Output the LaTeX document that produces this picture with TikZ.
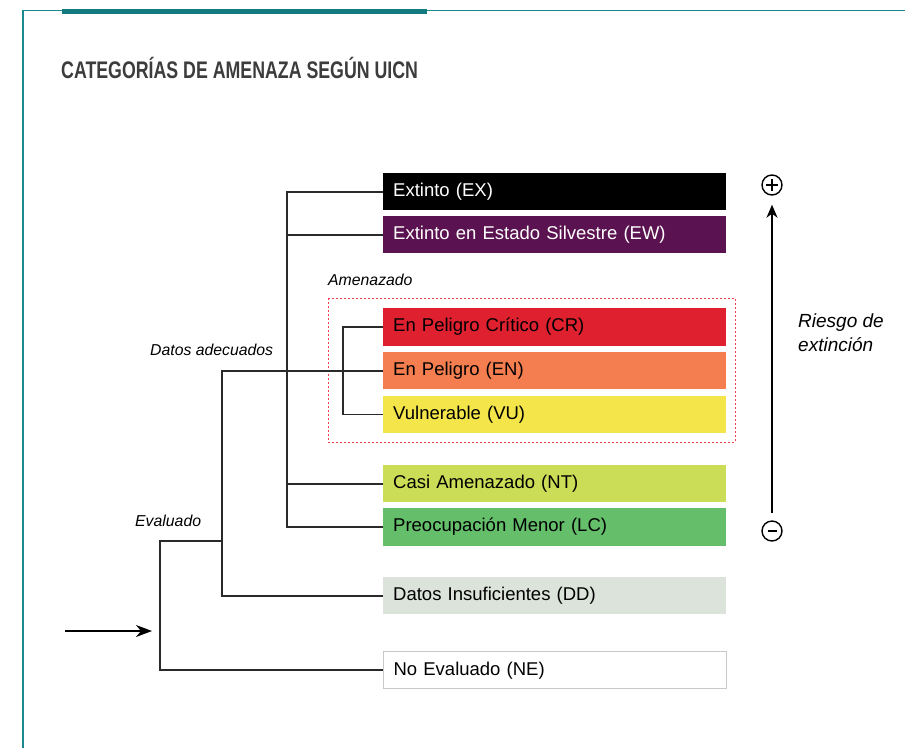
\documentclass[tikz,border=0pt]{standalone}
\usepackage{fontspec}
\setmainfont{Liberation Sans}
\newfontfamily\titlefont{Liberation Sans}[FakeStretch=0.74]
\usetikzlibrary{arrows.meta}
\definecolor{teal1}{HTML}{1A8A90}
\definecolor{teal2}{HTML}{137A80}
\definecolor{titlegray}{HTML}{3C3C3C}
\definecolor{cEX}{HTML}{000000}
\definecolor{cEW}{HTML}{5A1350}
\definecolor{cCR}{HTML}{DF202F}
\definecolor{cEN}{HTML}{F47E4F}
\definecolor{cVU}{HTML}{F3E54A}
\definecolor{cNT}{HTML}{CBDD56}
\definecolor{cLC}{HTML}{64BE6A}
\definecolor{cDD}{HTML}{DCE3DA}
\definecolor{cNEb}{HTML}{C8C8C8}
\definecolor{dashred}{HTML}{EF4050}
\definecolor{linegray}{HTML}{2A2A2A}
\tikzset{
  catbox/.style={anchor=north west, text width=323pt, inner sep=10pt, minimum height=35.5pt,
    font=\fontsize{18.5}{22}\selectfont, align=left, text=black},
  conn/.style={draw=linegray, line width=1.6pt},
  lbl/.style={font=\fontsize{15.8}{19}\selectfont\itshape, inner sep=0pt, text=black},
  pm/.style={circle, draw=black, line width=1.4pt, minimum size=20pt, inner sep=0pt}
}
\begin{document}
\begin{tikzpicture}[x=1pt,y=-1pt]
\useasboundingbox (0,0) rectangle (905,748);
% frame
\draw[teal1, line width=1.2pt] (23,748) -- (23,10.5) -- (905,10.5);
\fill[teal2] (62,9) rectangle (427,14);
\node[anchor=base west, inner sep=0pt, text=titlegray, font=\titlefont\bfseries\fontsize{24}{28}\selectfont] (title) at (61,78.5) {CATEGORÍAS DE AMENAZA SEGÚN UICN};

% boxes
\node[catbox, fill=cEX, text=white] (ex) at (383,173) {Extinto (EX)};
\node[catbox, fill=cEW, text=white] (ew) at (383,216) {Extinto en Estado Silvestre (EW)};
\node[catbox, fill=cCR] (cr) at (383,308) {En Peligro Crítico (CR)};
\node[catbox, fill=cEN] (en) at (383,352) {En Peligro (EN)};
\node[catbox, fill=cVU] (vu) at (383,395.5) {Vulnerable (VU)};
\node[catbox, fill=cNT] (nt) at (383,465) {Casi Amenazado (NT)};
\node[catbox, fill=cLC] (lc) at (383,508) {Preocupación Menor (LC)};
\node[catbox, fill=cDD] (dd) at (383,577) {Datos Insuficientes (DD)};
\node[catbox, fill=white, draw=cNEb, line width=1.2pt] (ne) at (383,651) {No Evaluado (NE)};

% threatened group
\draw[dashred, line width=0.9pt, dash pattern=on 2pt off 2pt] (328,298) rectangle (735,442);
\node[lbl, anchor=west] (amen) at (328,280) {Amenazado};
\node[lbl, anchor=west] (dada) at (150,350) {Datos adecuados};
\node[lbl, anchor=west] (eval) at (135,521) {Evaluado};

% coordinates of trunks
\coordinate (tk) at (287,0);
\coordinate (br) at (343,0);
\coordinate (da) at (222,0);
\coordinate (evj) at (222,541);
\coordinate (evx) at (160,0);
\coordinate (instart) at (65,631);
\coordinate (intip) at (152,631);

% connectors
\draw[conn] (ex.west) -| (lc.west -| tk) -- (lc.west);
\draw[conn] (ew.west) -- (ew.west -| tk);
\draw[conn] (nt.west) -- (nt.west -| tk);
\draw[conn] (cr.west) -| (vu.west -| br) -- (vu.west);
\draw[conn] (en.west) -| (dd.west -| da) -- (dd.west);
\draw[conn] (evj) -| (ne.west -| evx) -- (ne.west);
\draw[line width=1.6pt, -{Stealth[length=16pt,width=12pt,inset=5pt]}] (instart) -- (intip);

% risk axis
\node[pm] (plus) at (772,185) {};
\draw[line width=2.2pt] (plus.center) +(-6,0) -- +(6,0);
\draw[line width=2.2pt] (plus.center) +(0,-6) -- +(0,6);
\node[pm] (minus) at (772,531) {};
\draw[line width=2.4pt] (minus.center) +(-4.5,0) -- +(4.5,0);
\draw[line width=1.6pt, -{Stealth[length=13pt,width=11pt,inset=4pt]}, shorten <=7pt, shorten >=9pt] (minus.north) -- (plus.south);
\node[anchor=north west, inner sep=0pt, align=left, font=\fontsize{19}{24}\selectfont\itshape] (risk) at (798,314) {Riesgo de\\extinción};
\end{tikzpicture}
\end{document}
